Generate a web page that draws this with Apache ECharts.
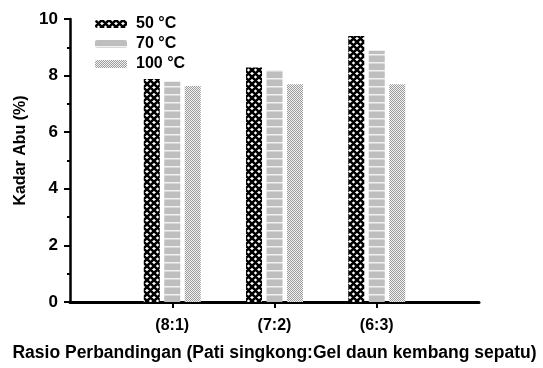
<!DOCTYPE html>
<html>
<head>
<meta charset="utf-8">
<script src="https://cdn.jsdelivr.net/npm/echarts@6/dist/echarts.min.js"></script>
<style>
html, body { margin: 0; padding: 0; background: #fff; }
#chart { width: 543px; height: 368px; }
</style>
</head>
<body>
<div id="chart"></div>
<script>
// blank slots at both ends keep the groups off the axis edges
const categories = ['', '(8:1)', '(7:2)', '(6:3)', '']
const seriesNames = ['50 °C', '70 °C', '100 °C']
const kadar50 = ['-', 7.88, 8.29, 9.4, '-']
const kadar70 = ['-', 7.78, 8.2, 8.88, '-']
const kadar100 = ['-', 7.63, 7.69, 7.69, '-']

const font = 'Liberation Sans, Arial, sans-serif'

function crossPattern() {
  const s = 7
  const c = document.createElement('canvas')
  c.width = s; c.height = s
  const g = c.getContext('2d')
  g.fillStyle = '#fff'
  g.fillRect(0, 0, s, s)
  g.strokeStyle = '#000'
  g.lineWidth = 2.6
  g.beginPath()
  for (let k = -1; k <= 2; k++) {
    g.moveTo(k * s - s, -s); g.lineTo(k * s + s, s * 1)
    g.moveTo(k * s - s, 2 * s); g.lineTo(k * s + s, 0)
  }
  g.stroke()
  return c
}

function stripePattern() {
  const c = document.createElement('canvas')
  c.width = 8; c.height = 8
  const g = c.getContext('2d')
  g.fillStyle = '#bebebe'
  g.fillRect(0, 0, 8, 8)
  g.fillStyle = '#f2f2f2'
  g.fillRect(0, 6, 8, 1.5)
  return c
}

function dotPattern() {
  const c = document.createElement('canvas')
  c.width = 2; c.height = 2
  const g = c.getContext('2d')
  g.fillStyle = '#f4f4f4'
  g.fillRect(0, 0, 2, 2)
  g.fillStyle = '#9a9a9a'
  g.fillRect(0, 0, 1, 1)
  g.fillRect(1, 1, 1, 1)
  return c
}

const patterns = [crossPattern(), stripePattern(), dotPattern()]
const values = [kadar50, kadar70, kadar100]

const chart = echarts.init(document.getElementById('chart'))

chart.setOption({
  animation: false,
  legend: {
    orient: 'vertical',
    left: 90,
    top: 11,
    itemWidth: 32,
    itemHeight: 8,
    itemGap: 4,
    textStyle: { fontFamily: font, fontSize: 16, fontWeight: 'bold', color: '#000', padding: [0, 0, 0, 4] },
    data: seriesNames
  },
  grid: { left: 70, right: 64, top: 19, bottom: 66, outerBoundsMode: 'none' },
  xAxis: {
    type: 'category',
    data: categories,
    boundaryGap: false,
    name: 'Rasio Perbandingan (Pati singkong:Gel daun kembang sepatu)',
    nameLocation: 'middle',
    nameGap: 42,
    nameTextStyle: { fontFamily: font, fontSize: 17.5, fontWeight: 'bold', color: '#000' },
    axisLine: { lineStyle: { color: '#000', width: 3 } },
    axisTick: {
      inside: false,
      length: 6,
      interval: (i) => i > 0 && i < categories.length - 1,
      lineStyle: { color: '#000', width: 2 }
    },
    axisLabel: { interval: 0, margin: 16, fontFamily: font, fontSize: 16, fontWeight: 'bold', color: '#000' },
    splitLine: { show: false }
  },
  yAxis: {
    type: 'value',
    min: 0,
    max: 10,
    interval: 2,
    name: 'Kadar Abu (%)',
    nameLocation: 'middle',
    nameGap: 40,
    nameTextStyle: { fontFamily: font, fontSize: 16, fontWeight: 'bold', color: '#000', padding: [0, 0, 0, 20] },
    axisLine: { show: true, lineStyle: { color: '#000', width: 2.5 } },
    axisTick: { show: true, length: 6, lineStyle: { color: '#000', width: 2 } },
    minorTick: { show: true, splitNumber: 2, length: 3, lineStyle: { color: '#000', width: 2 } },
    axisLabel: { margin: 12, fontFamily: font, fontSize: 17, fontWeight: 'bold', color: '#000' },
    splitLine: { show: false }
  },
  series: seriesNames.map((name, i) => ({
    name: name,
    type: 'bar',
    data: values[i],
    barWidth: 16,
    barGap: '28%',
    itemStyle: { color: { image: patterns[i], repeat: 'repeat' } }
  }))
})
</script>
</body>
</html>
